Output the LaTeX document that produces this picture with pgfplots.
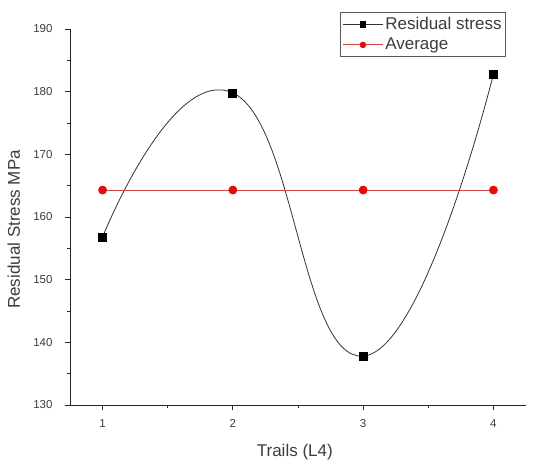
\documentclass[border=0pt]{standalone}
\usepackage{pgfplots}
\pgfplotsset{compat=1.18}
\usepackage{fontspec}
\setmainfont{Liberation Sans}
\definecolor{avgred}{RGB}{205,70,70}
\definecolor{mkred}{RGB}{230,10,10}
\definecolor{txt}{RGB}{60,60,60}
\begin{document}
\begin{tikzpicture}
\useasboundingbox (-70pt,-58pt) rectangle (464pt,405pt);
\begin{axis}[
  scale only axis, width=456pt, height=376pt,
  xmin=0.75, xmax=4.25, ymin=130, ymax=190,
  axis x line*=bottom, axis y line*=left,
  axis line style={-, line width=1pt, black!85},
  xtick={1,2,3,4}, ytick={130,140,...,190},
  minor x tick num=1, minor y tick num=1,
  tick align=outside, major tick length=5pt, minor tick length=3pt,
  tick style={line width=0.9pt, black!85},
  /pgf/number format/assume math mode=true,
  ticklabel style={font=\fontsize{11.5}{13}\selectfont, text=txt},
  yticklabel style={xshift=-9pt},
  xticklabel style={yshift=-6pt},
  xlabel={Trails (L4)}, ylabel={Residual Stress MPa},
  label style={font=\fontsize{17}{19}\selectfont, text=txt},
  xlabel style={at={(axis description cs:0.493,-0.125)}, anchor=center},
  ylabel style={at={(axis description cs:-0.123,0.467)}, anchor=center},
  legend style={at={(axis description cs:0.956,1.045)}, anchor=north east,
    draw=black!65, line width=0.8pt, font=\fontsize{17}{19}\selectfont, text=txt,
    inner xsep=2pt, inner ysep=3pt, row sep=3pt, legend cell align=left},
  legend image code/.code={\draw[mark repeat=2,mark phase=2,#1,mark size=2.8pt] plot coordinates {(0pt,0pt)(20pt,0pt)(40pt,0pt)};},
]
\addplot[black!80, line width=0.8pt, smooth, tension=0.85, mark=square*, mark size=4pt, mark options={fill=black, draw=black}]
  coordinates {(1,156.8) (2,179.8) (3,137.8) (4,182.8)};
\addlegendentry{Residual stress}
\addplot[avgred, line width=0.8pt, mark=*, mark size=4pt, mark options={fill=mkred, draw=mkred}]
  coordinates {(1,164.3) (2,164.3) (3,164.3) (4,164.3)};
\addlegendentry{Average}
\end{axis}
\end{tikzpicture}
\end{document}
